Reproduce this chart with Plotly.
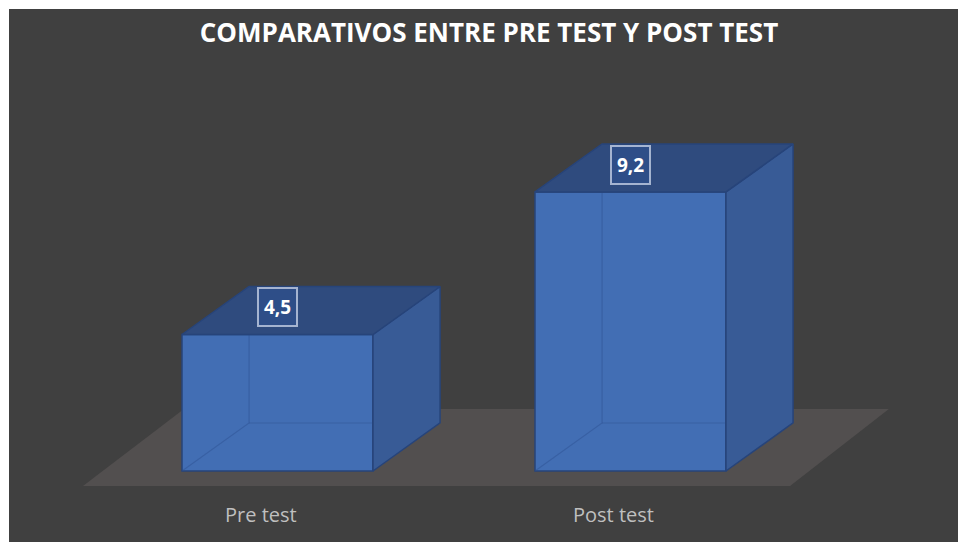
import plotly.graph_objects as go

# ---- data ----
categories = ["Pre test", "Post test"]
values = [4.5, 9.2]
value_labels = ["4,5", "9,2"]
title_text = "COMPARATIVOS ENTRE PRE TEST Y POST TEST"

# ---- style / geometry constants ----
BG = "#404040"
FLOOR = "#524f4f"
FRONT = "#426eb4"
TOP = "#2f4b7e"
SIDE = "#385b96"
EDGE = "#27447a"
W = 0.541      # bar width (x units)
DX = 0.19      # depth offset x
DY = 1.583     # depth offset y (value units)

pos = list(range(len(categories)))

fig = go.Figure()

# front faces (bars)
fig.add_trace(go.Bar(
    x=pos, y=values, width=W,
    marker=dict(color=FRONT, line=dict(color=EDGE, width=1.5)),
    hoverinfo="skip", showlegend=False,
))

# faint hidden back edges seen through the front face
for i, v in zip(pos, values):
    xl = i - W / 2
    xr = i + W / 2
    fig.add_trace(go.Scatter(
        x=[xl, xl + DX, xl + DX, None, xl + DX, xr + DX],
        y=[0, DY, v + DY, None, DY, DY],
        mode="lines", line=dict(color="rgba(45,80,145,0.45)", width=1.2),
        hoverinfo="skip", showlegend=False,
    ))

# side & top faces
for i, v in zip(pos, values):
    xl = i - W / 2
    xr = i + W / 2
    fig.add_trace(go.Scatter(
        x=[xr, xr + DX, xr + DX, xr, xr],
        y=[0, DY, v + DY, v, 0],
        mode="lines", fill="toself", fillcolor=SIDE,
        line=dict(color=EDGE, width=1.5),
        hoverinfo="skip", showlegend=False,
    ))
    fig.add_trace(go.Scatter(
        x=[xl, xr, xr + DX, xl + DX, xl],
        y=[v, v, v + DY, v + DY, v],
        mode="lines", fill="toself", fillcolor=TOP,
        line=dict(color=EDGE, width=1.5),
        hoverinfo="skip", showlegend=False,
    ))

# floor (behind the bars)
fy0, fy1 = -0.495, 2.044
fx = [pos[0] - 0.551, pos[-1] + 0.452, pos[-1] + 0.732, pos[0] - 0.265]
fig.add_shape(
    type="path", layer="below", xref="x", yref="y",
    path=f"M {fx[0]},{fy0} L {fx[1]},{fy0} L {fx[2]},{fy1} L {fx[3]},{fy1} Z",
    fillcolor=FLOOR, line=dict(width=0),
)

# data labels
for i, v, t in zip(pos, values, value_labels):
    fig.add_annotation(
        x=i, y=v + DY / 2 + 0.1, text=f"<b>{t}</b>", showarrow=False,
        font=dict(family="Open Sans", size=19, color="white"),
        bgcolor="#2e4e88", bordercolor="rgba(205,215,235,0.75)",
        borderwidth=2, borderpad=5,
    )

# category labels
for i, c in zip(pos, categories):
    fig.add_annotation(
        x=i - 0.047, y=-1.45, text=c, showarrow=False,
        font=dict(family="Open Sans", size=20, color="#bfbfbf"),
    )

fig.update_layout(
    width=958, height=542,
    margin=dict(l=9, r=0, t=9, b=0),
    paper_bgcolor="white", plot_bgcolor=BG,
    title=dict(
        text=f"<b>{title_text}</b>", x=489 / 958, xanchor="center",
        y=1 - 33 / 542, yanchor="middle",
        font=dict(family="Open Sans", size=26, color="white"),
    ),
    xaxis=dict(range=[-0.7606, 1.9278], visible=False, fixedrange=True),
    yaxis=dict(range=[-2.341, 15.232], visible=False, fixedrange=True),
    showlegend=False,
)

fig.write_html(
    "out.html",
    config={"displayModeBar": False, "staticPlot": True},
    post_script="document.body.style.margin='0';document.body.style.overflow='hidden';",
)
